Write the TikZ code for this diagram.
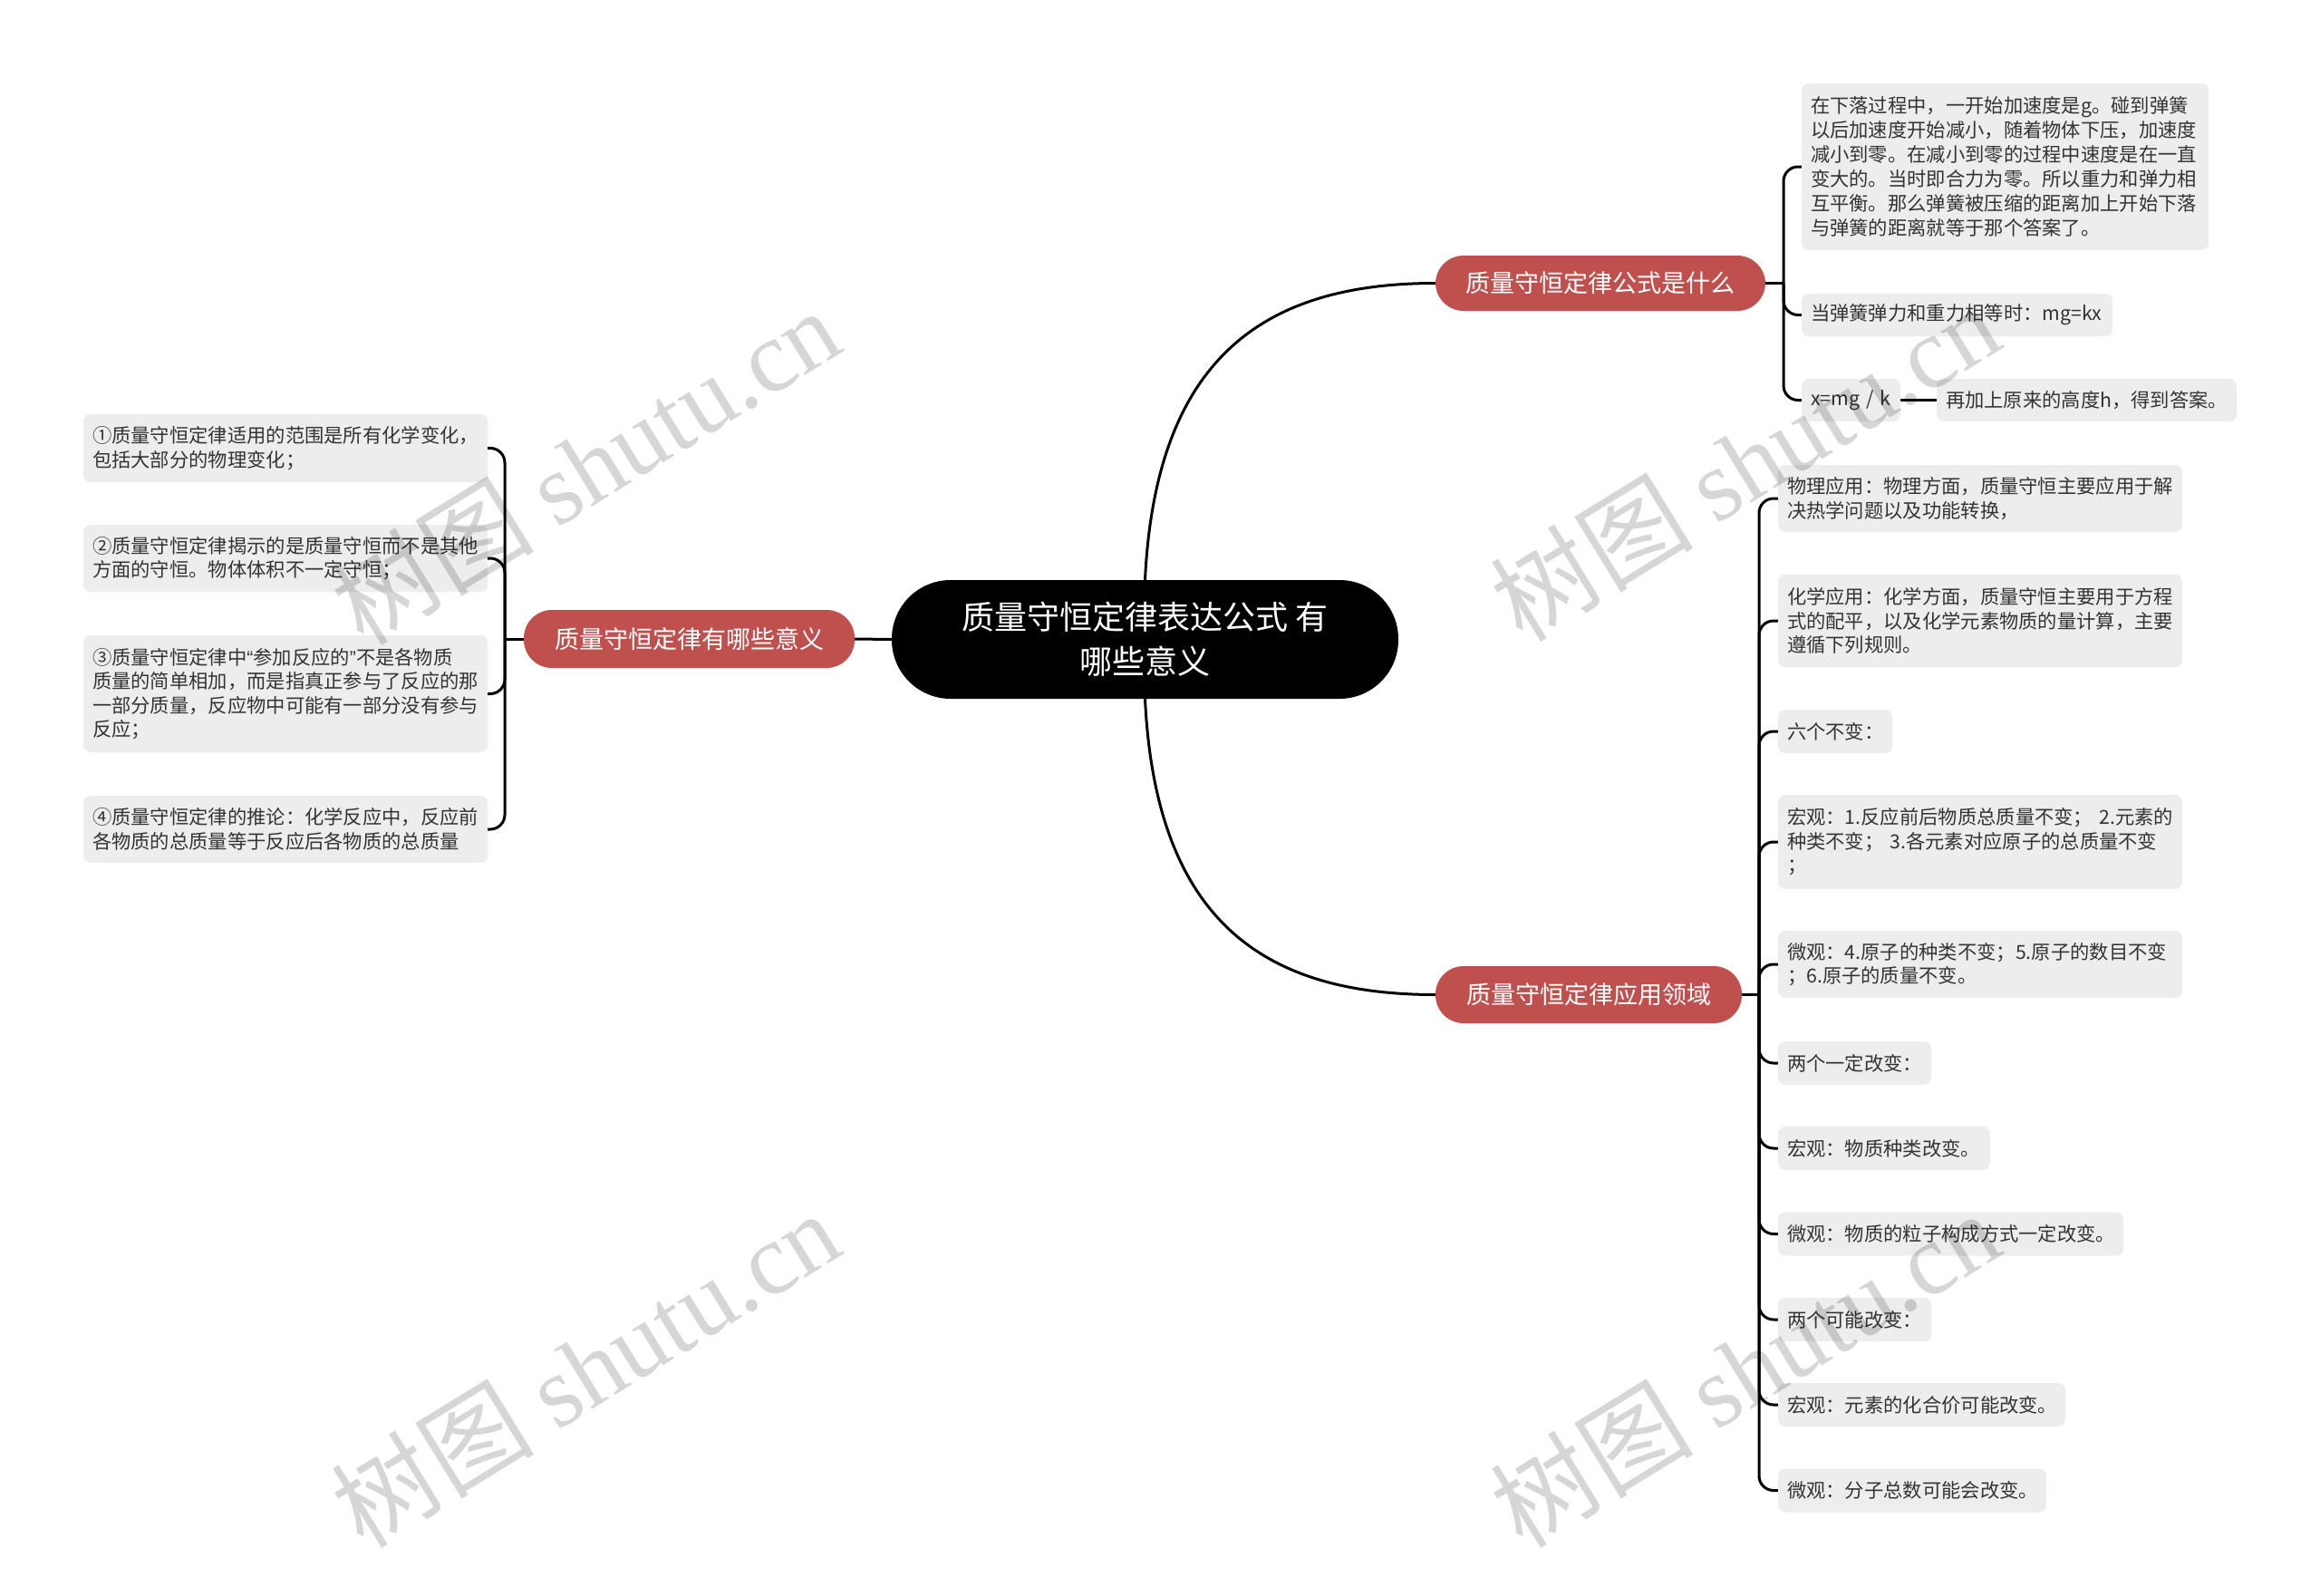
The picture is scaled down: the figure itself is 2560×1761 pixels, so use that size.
\documentclass[tikz,border=0pt]{standalone}
\usepackage{fontspec}
\setmainfont{Noto Sans CJK SC}
\newfontfamily\wmserif{Liberation Serif}
\newfontfamily\latinq{Liberation Sans}
\definecolor{branchred}{HTML}{C0504D}
\definecolor{leafgray}{HTML}{EDEDED}
\definecolor{leaftext}{HTML}{333333}
\tikzset{
  leaf/.style={fill=leafgray, rounded corners=8pt, inner xsep=10pt, inner ysep=0pt,
    align=left, text=leaftext, font=\fontsize{21.3}{26.5}\selectfont},
  branch/.style={fill=branchred, text=white, rounded corners=31pt,
    font=\fontsize{27}{32}\selectfont, inner sep=0pt},
  rootnode/.style={fill=black, text=white, rounded corners=65pt, align=center,
    font=\fontsize{36}{49}\selectfont, inner sep=0pt},
  conn/.style={draw=black, line width=3pt},
  spine/.style={conn, rounded corners=16pt},
  wm/.style={text=black, text opacity=0.16, rotate=31.6, inner sep=0pt,
    font=\fontsize{112}{118}\selectfont}
}
\begin{document}
\begin{tikzpicture}[x=1pt, y=-1pt]
\fill[white] (0,0) rectangle (2560,1761);
\useasboundingbox (0,0) rectangle (2560,1761);

% root and branches
\node[rootnode, minimum width=559pt, minimum height=131pt] (root) at (1263.5,705.5)
  {质量守恒定律表达公式 有\\哪些意义};
\node[branch, minimum width=364pt, minimum height=61pt] (B1) at (1766,312.5) {质量守恒定律公式是什么};
\node[branch, minimum width=365pt, minimum height=64pt] (B2) at (760.5,705) {质量守恒定律有哪些意义};
\node[branch, minimum width=338pt, minimum height=63pt] (B3) at (1753,1097.5) {质量守恒定律应用领域};

% branch 1 leaves
\node[leaf, text width=429pt, minimum height=184pt, font=\fontsize{21.3}{27}\selectfont] (a1) at (2212.5,184)
  {在下落过程中，一开始加速度是g。碰到弹簧\\以后加速度开始减小，随着物体下压，加速度\\减小到零。在减小到零的过程中速度是在一直\\变大的。当时即合力为零。所以重力和弹力相\\互平衡。那么弹簧被压缩的距离加上开始下落\\与弹簧的距离就等于那个答案了。};
\node[leaf, text width=323pt, minimum height=47pt] (a2) at (2159.5,347.5) {当弹簧弹力和重力相等时：mg=kx};
\node[leaf, text width=89pt, minimum height=47pt] (a3) at (2042.5,441.5) {x=mg / k};
\node[leaf, text width=311pt, minimum height=47pt] (a4) at (2302.5,441.5) {再加上原来的高度h，得到答案。};

% branch 2 leaves
\node[leaf, text width=426pt, minimum height=75pt] (c1) at (315,494.5)
  {①质量守恒定律适用的范围是所有化学变化，\\包括大部分的物理变化；};
\node[leaf, text width=426pt, minimum height=74pt] (c2) at (315,616)
  {②质量守恒定律揭示的是质量守恒而不是其他\\方面的守恒。物体体积不一定守恒；};
\node[leaf, text width=426pt, minimum height=129pt] (c3) at (315,765.5)
  {③质量守恒定律中{\latinq “}参加反应的{\latinq ”}不是各物质\\质量的简单相加，而是指真正参与了反应的那\\一部分质量，反应物中可能有一部分没有参与\\反应；};
\node[leaf, text width=426pt, minimum height=74pt] (c4) at (315,915)
  {④质量守恒定律的推论：化学反应中，反应前\\各物质的总质量等于反应后各物质的总质量};

% branch 3 leaves
\node[leaf, text width=426pt, minimum height=74pt] (b1) at (2185,550)
  {物理应用：物理方面，质量守恒主要应用于解\\决热学问题以及功能转换，};
\node[leaf, text width=426pt, minimum height=102pt] (b2) at (2185,685)
  {化学应用：化学方面，质量守恒主要用于方程\\式的配平，以及化学元素物质的量计算，主要\\遵循下列规则。};
\node[leaf, text width=106pt, minimum height=48pt] (b3) at (2025,807) {六个不变：};
\node[leaf, text width=426pt, minimum height=104pt] (b4) at (2185,929)
  {宏观：1.反应前后物质总质量不变； 2.元素的\\种类不变； 3.各元素对应原子的总质量不变\\；};
\node[leaf, text width=426pt, minimum height=74pt] (b5) at (2185,1064)
  {微观：4.原子的种类不变；5.原子的数目不变\\；6.原子的质量不变。};
\node[leaf, text width=149pt, minimum height=48pt] (b6) at (2046.5,1173) {两个一定改变：};
\node[leaf, text width=214pt, minimum height=48pt] (b7) at (2079,1267) {宏观：物质种类改变。};
\node[leaf, text width=361pt, minimum height=48pt] (b8) at (2152.5,1361.5) {微观：物质的粒子构成方式一定改变。};
\node[leaf, text width=149pt, minimum height=48pt] (b9) at (2046.5,1456) {两个可能改变：};
\node[leaf, text width=297pt, minimum height=48pt] (b10) at (2120.5,1550) {宏观：元素的化合价可能改变。};
\node[leaf, text width=276pt, minimum height=48pt] (b11) at (2110,1644.5) {微观：分子总数可能会改变。};

% spine points
\coordinate (s1) at (1968,312.5);
\coordinate (s2) at (557,705);
\coordinate (s3) at (1941,1097.5);

% root connectors
\draw[conn] (root.north) .. controls +(12,-250) and +(-184,0) .. (B1.west);
\draw[conn] (root.south) .. controls +(12,250) and +(-184,0) .. (B3.west);
\draw[conn] (root.west) -- (B2.east);

% branch 1
\draw[conn] (B1.east) -- (s1);
\foreach \n in {a1,a2,a3} \draw[spine] (s1) |- (\n.west);
\draw[conn] (a3.east) -- (a4.west);

% branch 2
\draw[conn] (B2.west) -- (s2);
\foreach \n in {c1,c2,c3,c4} \draw[spine] (s2) |- (\n.east);

% branch 3
\draw[conn] (B3.east) -- (s3);
\foreach \n in {b1,b2,b3,b4,b5,b6,b7,b8,b9,b10,b11} \draw[spine] (s3) |- (\n.west);

% watermarks
\node[wm] (w1) at (646,514) {树图 {\wmserif shutu.cn}};
\node[wm] (w2) at (646,1510) {树图 {\wmserif shutu.cn}};
\node[wm] (w3) at (1925,510) {树图 {\wmserif shutu.cn}};
\node[wm] (w4) at (1925,1510) {树图 {\wmserif shutu.cn}};
\end{tikzpicture}
\end{document}
